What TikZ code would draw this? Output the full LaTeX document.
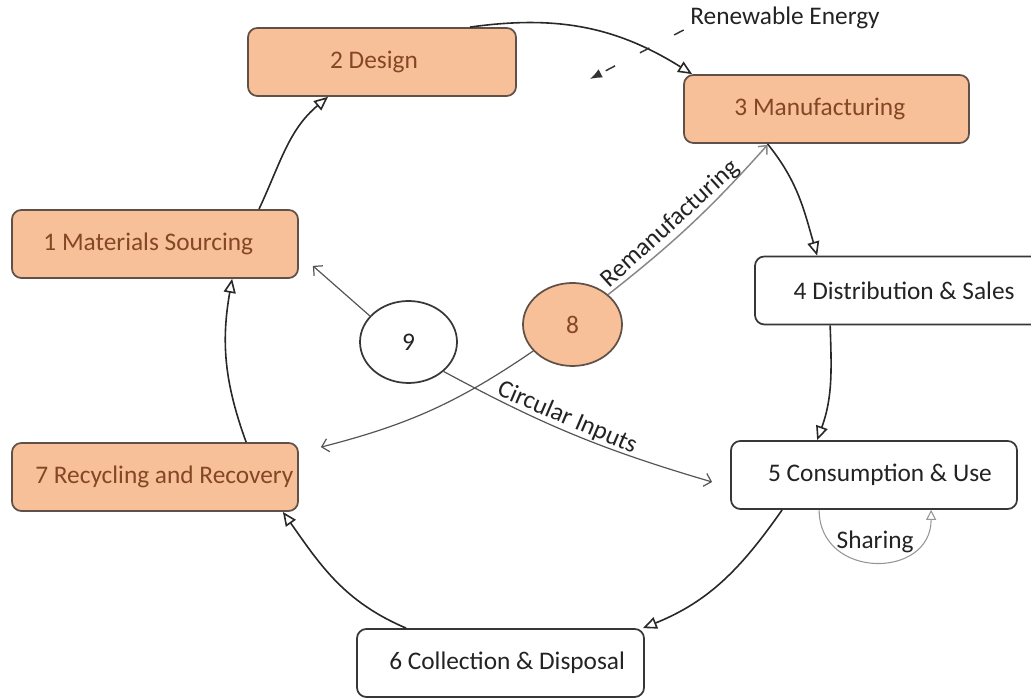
\documentclass[tikz,border=0pt]{standalone}
\usepackage{fontspec}
\setmainfont{Carlito}
\usetikzlibrary{arrows.meta,calc,shapes.geometric}
\definecolor{peach}{RGB}{248,192,153}
\definecolor{hotline}{RGB}{95,80,72}
\definecolor{hottext}{RGB}{132,70,38}
\definecolor{coldline}{RGB}{55,55,55}
\definecolor{coldtext}{RGB}{35,35,35}
\definecolor{cycline}{RGB}{40,40,40}
\definecolor{linkline}{RGB}{85,85,85}
\definecolor{softline}{RGB}{150,150,150}
\newcommand\lbl{\fontsize{19}{22}\selectfont}
\tikzset{
  stage/.style={draw, line width=1.3pt, rounded corners=7pt,
    minimum width=214.5pt, minimum height=51pt, inner xsep=2pt, inner ysep=0pt,
    font=\lbl},
  hot/.style={stage, fill=peach, draw=hotline, text=hottext},
  cold/.style={stage, fill=white, draw=coldline, text=coldtext},
  hub/.style={ellipse, line width=1.3pt, inner sep=0pt, font=\lbl},
  cyc/.style={draw=cycline, line width=1.2pt,
    -{Triangle[open, length=10.5pt, width=9pt, fill=white]}},
  link/.style={draw=linkline, line width=0.9pt,
    -{Straight Barb[length=5pt, width=10pt]}},
  remanline/.style={draw=softline!90!black, line width=1.1pt,
    -{Straight Barb[length=5pt, width=9pt]}},
  sharearc/.style={draw=softline, line width=0.8pt,
    -{Triangle[open, length=7.5pt, width=7.5pt, fill=white]}},
  tag/.style={font=\lbl, text=coldtext},
}
\begin{document}
\begin{tikzpicture}[x=0.75pt, y=0.75pt]
\useasboundingbox (0,0) rectangle (1031,698);

% stages of the loop
\node[hot]  (n1) at (155,454)   {1 Materials Sourcing\hspace*{10pt}};
\node[hot, minimum width=201pt] (n2) at (382,636) {2 Design\hspace*{12pt}};
\node[hot, minimum width=213.75pt]  (n3) at (826.5,589) {3 Manufacturing\hspace*{10pt}};
\node[cold, minimum width=213.75pt] (n4) at (897.5,407.5) {\hspace*{10pt}4 Distribution \& Sales};
\node[cold] (n5) at (874,223)   {\hspace*{9pt}5 Consumption \& Use};
\node[cold, minimum width=215.25pt] (n6) at (500.5,35) {\hspace*{10pt}6 Collection \& Disposal};
\node[hot]  (n7) at (155,221)   {\hspace*{14pt}7 Recycling and Recovery};

% inner hubs
\node[hub, draw=coldline, fill=white, text=coldtext,
      minimum width=72.75pt, minimum height=61.5pt] (n9) at (408.5,356) {9};
\node[hub, draw=hotline, fill=peach, text=hottext,
      minimum width=74.25pt, minimum height=62.25pt] (n8) at (572.5,373.5) {8};

% main cycle
\draw[cyc] ($(n1.north)+(104,0)$) to[out=65,in=220] ($(n2.south)+(-54,0)$);
\draw[cyc] ($(n2.north)+(88,0)$) to[out=8,in=148] ($(n3.north west)+(9,0)$);
\draw[cyc] ($(n3.south)+(-59,0)$) to[out=-51,in=106] ($(n4.north west)+(63,0)$);
\draw[cyc] ($(n4.south west)+(76,0)$) to[out=-88,in=70] ($(n5.north west)+(87,0)$);
\draw[cyc] ($(n5.south west)+(52,0)$) to[out=235,in=22] ($(n6.north east)+(-2,0)$);
\draw[cyc] ($(n6.north west)+(50,0)$) to[out=157,in=305] ($(n7.south east)+(-16,0)$);
\draw[cyc] ($(n7.north west)+(235,0)$) to[out=110,in=260] ($(n1.south west)+(221,0)$);

% inner links
\draw[link] (n9.146) -- ($(n1.south east)+(14,13)$);
\draw[link] (n9.-40) to[bend right=6]
  node[sloped, above, pos=0.45, inner sep=1pt, tag] {Circular Inputs}
  ($(n5.west)+(-18,-7)$);
\draw[link] (n8.214) to[bend left=10] ($(n7.north east)+(22,-5)$);
\draw[remanline] (n8.40) to[bend right=5]
  node[sloped, above, pos=0.42, inner sep=2pt, tag] {Remanufacturing}
  ($(n3.south)+(-59,-1)$);

% sharing loop under stage 5
\draw[sharearc] ($(n5.south west)+(89,0)$) to[out=-90,in=-90,looseness=1.6]
  node[pos=0.5, above=3pt, tag] {Sharing}
  ($(n5.south west)+(201,0)$);

% renewable energy input
\node[tag] (re) at (785,680) {Renewable Energy};
\coordinate (reS) at ($(re.west)+(-2,-12)$);
\coordinate (reE) at (590,619);
\draw[black!80, line width=1.1pt, dash pattern=on 8pt off 21pt,
      -{Latex[length=9pt, width=7pt]}] (reS) -- (reE);
\end{tikzpicture}
\end{document}
